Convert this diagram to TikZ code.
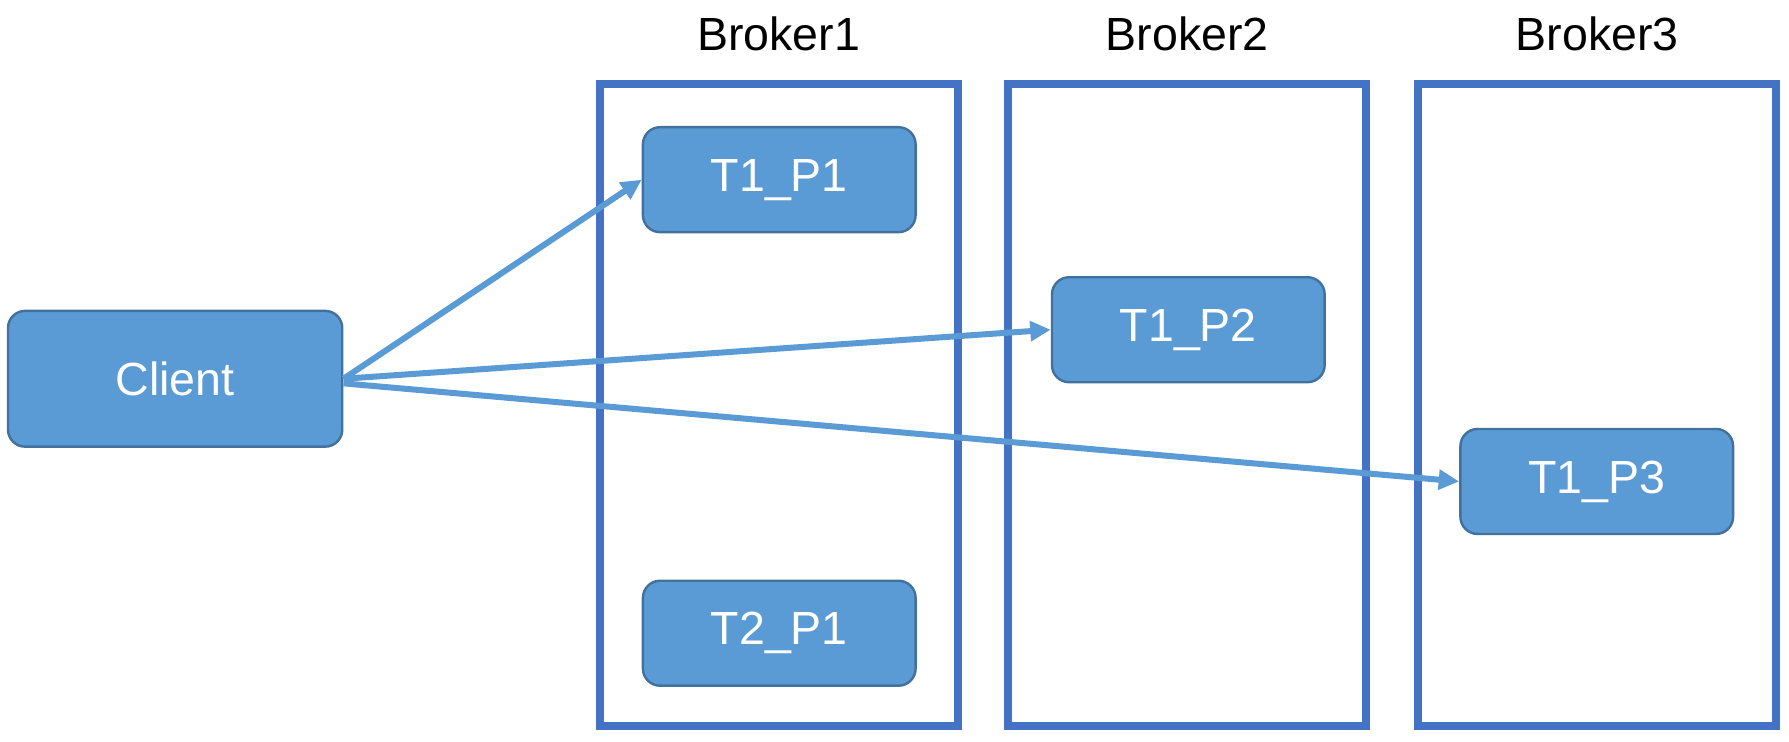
\documentclass[tikz,border=0pt]{standalone}
\usepackage{fontspec}
\setmainfont{Liberation Sans}
\usetikzlibrary{
  arrows.meta,
  shapes
}
\definecolor{brokerblue}{HTML}{4472C4}
\definecolor{partfill}{HTML}{5B9BD5}
\definecolor{partline}{HTML}{41719C}
\tikzset{
  broker/.style={draw=brokerblue, line width=2pt, minimum width=3.14cm, minimum height=5.63cm, inner sep=0pt},
  part/.style={draw=partline, line width=0.6pt, fill=partfill, rounded corners=0.15cm,
    minimum width=2.39cm, minimum height=0.92cm, text=white, font=\fontsize{11.6}{14}\selectfont},
  send/.style={draw=partfill, line width=1.5pt, -{Triangle[length=0.18cm, width=0.17cm]}}
}

\begin{document}
\begin{tikzpicture}
  \def\Xa{6.825};
  \def\Xb{10.405};
  \def\Xc{14.0};
  \def\Ymid{3.87};
  \def\Ytop{7.12};
         \useasboundingbox (0,0.92) rectangle (15.68,7.42);
         \node [broker] (b1) at (\Xa, \Ymid) {};  % broker 1
         \node [broker] (b2) at (\Xb, \Ymid) {};  % broker 2
         \node [broker] (b3) at (\Xc, \Ymid) {};  % broker 3
         \node [font=\fontsize{11.6}{14}\selectfont] (l1) at (\Xa, \Ytop) {Broker1};
         \node [font=\fontsize{11.6}{14}\selectfont] (l2) at (\Xb, \Ytop) {Broker2};
         \node [font=\fontsize{11.6}{14}\selectfont] (l3) at (\Xc, \Ytop) {Broker3};

        \node [part] (t1p1) at (\Xa + 0.005, 5.845) {T1\_P1};
        \node [part] (t2p1) at (\Xa + 0.005, 1.87)  {T2\_P1};
        \node [part] (t1p2) at (\Xb + 0.01, 4.53)   {T1\_P2};
        \node [part] (t1p3) at (\Xc - 0.005, 3.20)  {T1\_P3};
        \node [part, minimum width=2.93cm, minimum height=1.19cm] (client) at (1.535, 4.1) {Client};

	\draw [send] (client.east) -- (t1p1.west);  % client -> T1_P1
	\draw [send] (client.east) -- (t1p2.west);  % client -> T1_P2
	\draw [send] ([yshift=-0.04cm]client.east) -- (t1p3.west); % client -> T1_P3
\end{tikzpicture}
\end{document}
